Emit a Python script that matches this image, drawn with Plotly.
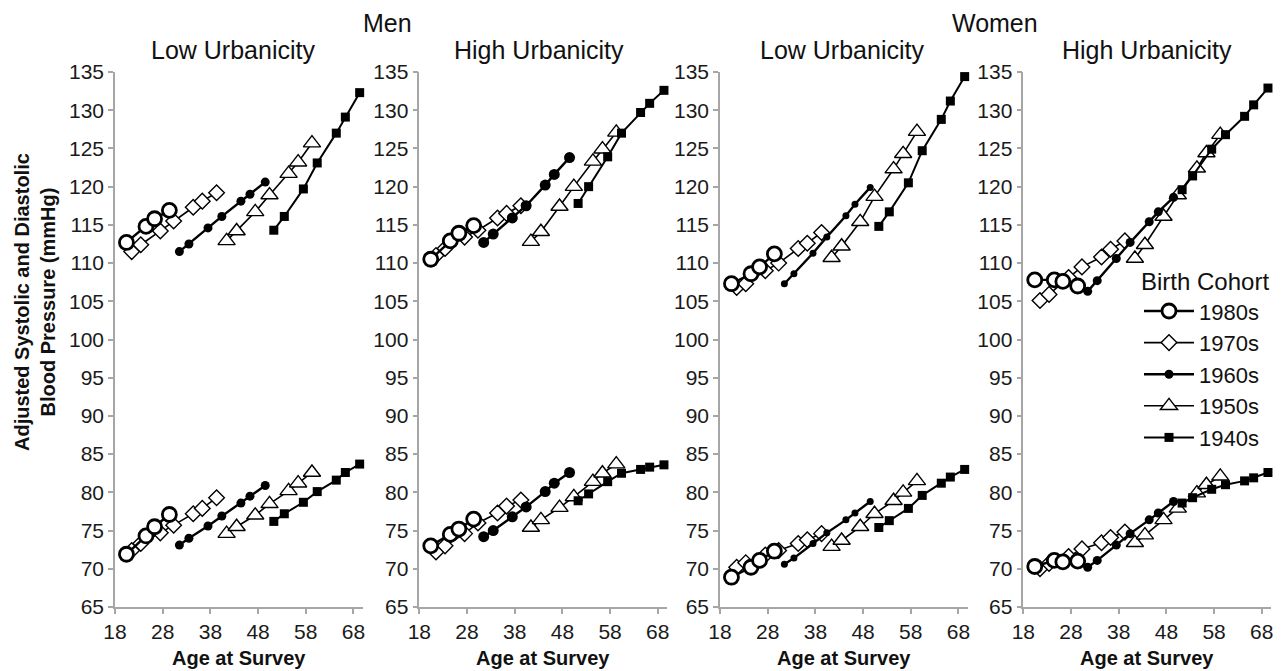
import plotly.graph_objects as go

# ---------------- data ----------------
cohorts = ["1980s", "1970s", "1960s", "1950s", "1940s"]

age_1980s = [20.4, 24.5, 26.3, 29.4]
age_1970s = [21.5, 23.4, 27.5, 30.3, 34.4, 36.3, 39.3]
age_1960s = [31.5, 33.5, 37.5, 40.4, 44.4, 46.3, 49.5]
age_1950s = [41.4, 43.5, 47.4, 50.4, 54.4, 56.4, 59.3]
age_1940s = [51.3, 53.5, 57.5, 60.4, 64.4, 66.3, 69.3]

# Men, low urbanicity
men_low_sbp_1980s = [112.7, 114.8, 115.8, 116.9]
men_low_sbp_1970s = [111.5, 112.4, 114.2, 115.5, 117.3, 118.1, 119.2]
men_low_sbp_1960s = [111.5, 112.5, 114.6, 116.1, 118.1, 119.0, 120.6]
men_low_sbp_1950s = [112.9, 114.2, 116.7, 118.9, 121.7, 123.2, 125.7]
men_low_sbp_1940s = [114.3, 116.1, 119.7, 123.1, 127.0, 129.1, 132.3]
men_low_dbp_1980s = [71.9, 74.3, 75.5, 77.1]
men_low_dbp_1970s = [72.4, 73.3, 74.7, 75.7, 77.2, 77.9, 79.3]
men_low_dbp_1960s = [73.1, 74.0, 75.6, 76.9, 78.6, 79.5, 80.9]
men_low_dbp_1950s = [74.6, 75.5, 77.0, 78.5, 80.2, 81.2, 82.6]
men_low_dbp_1940s = [76.2, 77.2, 78.7, 80.1, 81.6, 82.6, 83.7]

# Men, high urbanicity
men_high_sbp_1980s = [110.5, 112.9, 113.9, 114.9]
men_high_sbp_1970s = [111.0, 111.9, 113.4, 114.3, 115.9, 116.5, 117.5]
men_high_sbp_1960s = [112.7, 113.8, 115.9, 117.5, 120.2, 121.6, 123.8]
men_high_sbp_1950s = [112.8, 114.1, 117.4, 120.0, 123.3, 124.9, 127.1]
men_high_sbp_1940s = [117.8, 120.0, 123.9, 127.0, 129.7, 130.9, 132.6]
men_high_dbp_1980s = [73.0, 74.5, 75.2, 76.5]
men_high_dbp_1970s = [72.2, 73.0, 74.6, 76.0, 77.3, 78.2, 79.0]
men_high_dbp_1960s = [74.2, 75.0, 76.8, 78.1, 80.1, 81.2, 82.6]
men_high_dbp_1950s = [75.4, 76.4, 78.0, 79.4, 81.4, 82.5, 83.7]
men_high_dbp_1940s = [78.9, 79.8, 81.4, 82.5, 83.0, 83.3, 83.6]

# Women, low urbanicity
women_low_sbp_1980s = [107.3, 108.6, 109.5, 111.2]
women_low_sbp_1970s = [106.8, 107.3, 109.0, 110.0, 111.9, 112.6, 114.0]
women_low_sbp_1960s = [107.3, 108.6, 111.3, 113.4, 116.2, 117.7, 119.9]
women_low_sbp_1950s = [110.7, 112.2, 115.4, 118.7, 122.3, 124.3, 127.2]
women_low_sbp_1940s = [114.8, 116.7, 120.5, 124.7, 128.8, 131.2, 134.4]
women_low_dbp_1980s = [68.9, 70.2, 71.1, 72.3]
women_low_dbp_1970s = [70.2, 70.8, 71.8, 72.4, 73.3, 73.8, 74.6]
women_low_dbp_1960s = [70.6, 71.4, 73.3, 74.7, 76.4, 77.3, 78.8]
women_low_dbp_1950s = [72.9, 73.7, 75.5, 77.2, 78.9, 80.0, 81.5]
women_low_dbp_1940s = [75.4, 76.3, 77.9, 79.6, 81.2, 82.0, 83.0]

# Women, high urbanicity
women_high_sbp_1980s = [107.8, 107.8, 107.6, 107.0]
women_high_sbp_1970s = [105.1, 105.9, 108.1, 109.5, 110.8, 111.8, 112.9]
women_high_sbp_1960s = [106.3, 107.7, 110.6, 112.7, 115.4, 116.7, 118.6]
women_high_sbp_1950s = [110.6, 112.4, 116.1, 118.9, 122.4, 124.4, 126.8]
women_high_sbp_1940s = [119.6, 121.4, 124.9, 126.8, 129.2, 130.7, 132.9]
women_high_dbp_1980s = [70.3, 71.1, 70.9, 71.0]
women_high_dbp_1970s = [70.0, 70.7, 71.6, 72.6, 73.4, 74.1, 74.8]
women_high_dbp_1960s = [70.2, 71.1, 73.1, 74.6, 76.4, 77.3, 78.8]
women_high_dbp_1950s = [73.4, 74.4, 76.4, 77.9, 79.9, 81.0, 82.1]
women_high_dbp_1940s = [78.6, 79.3, 80.4, 81.0, 81.5, 81.9, 82.6]

panel_titles = ["Low Urbanicity", "High Urbanicity", "Low Urbanicity", "High Urbanicity"]
sex_titles = ["Men", "Women"]
x_ticks = [18, 28, 38, 48, 58, 68]
y_ticks = list(range(65, 140, 5))

# ---------------- assembly ----------------
ages = {"1980s": age_1980s, "1970s": age_1970s, "1960s": age_1960s,
        "1950s": age_1950s, "1940s": age_1940s}
panels = [
    {"1980s": (men_low_sbp_1980s, men_low_dbp_1980s), "1970s": (men_low_sbp_1970s, men_low_dbp_1970s),
     "1960s": (men_low_sbp_1960s, men_low_dbp_1960s), "1950s": (men_low_sbp_1950s, men_low_dbp_1950s),
     "1940s": (men_low_sbp_1940s, men_low_dbp_1940s)},
    {"1980s": (men_high_sbp_1980s, men_high_dbp_1980s), "1970s": (men_high_sbp_1970s, men_high_dbp_1970s),
     "1960s": (men_high_sbp_1960s, men_high_dbp_1960s), "1950s": (men_high_sbp_1950s, men_high_dbp_1950s),
     "1940s": (men_high_sbp_1940s, men_high_dbp_1940s)},
    {"1980s": (women_low_sbp_1980s, women_low_dbp_1980s), "1970s": (women_low_sbp_1970s, women_low_dbp_1970s),
     "1960s": (women_low_sbp_1960s, women_low_dbp_1960s), "1950s": (women_low_sbp_1950s, women_low_dbp_1950s),
     "1940s": (women_low_sbp_1940s, women_low_dbp_1940s)},
    {"1980s": (women_high_sbp_1980s, women_high_dbp_1980s), "1970s": (women_high_sbp_1970s, women_high_dbp_1970s),
     "1960s": (women_high_sbp_1960s, women_high_dbp_1960s), "1950s": (women_high_sbp_1950s, women_high_dbp_1950s),
     "1940s": (women_high_sbp_1940s, women_high_dbp_1940s)},
]

W, H = 1285, 671
def fx(px):
    return px / W
def fy(py):
    return 1 - py / H

x_left = [115, 419.3, 720, 1023.3]
x_width = 248
y_top, y_bot = 72, 607

styles = {
    "1980s": dict(symbol="circle", color="white", size=14, lw=2.8, linew=2.4),
    "1970s": dict(symbol="diamond", color="white", size=12, lw=1.4, linew=1.6),
    "1960s": dict(symbol="circle", color="black", size=9, lw=0, linew=2.4),
    "1950s": dict(symbol="triangle-up", color="white", size=15, lw=1.4, linew=1.6),
    "1940s": dict(symbol="square", color="black", size=9, lw=0, linew=2.0),
}
dot_size = [9, 11, 7, 9]
draw_order = ["1950s", "1940s", "1970s", "1960s", "1980s"]
rank = {c: i for i, c in enumerate(cohorts)}

FONT = "Liberation Sans, Arial"
fig = go.Figure()
for p, pdata in enumerate(panels):
    xa = "x" if p == 0 else f"x{p+1}"
    ya = "y" if p == 0 else f"y{p+1}"
    for c in draw_order:
        st = styles[c]
        size = dot_size[p] if c == "1960s" else st["size"]
        for k, vals in enumerate(pdata[c]):
            fig.add_trace(go.Scatter(
                x=ages[c], y=vals, xaxis=xa, yaxis=ya,
                mode="lines+markers", name=c,
                legendrank=rank[c],
                showlegend=(p == 3 and k == 0),
                line=dict(color="black", width=st["linew"]),
                marker=dict(symbol=st["symbol"], color=st["color"], size=size,
                            line=dict(color="black", width=st["lw"])),
                cliponaxis=False,
            ))

axis_common = dict(showline=True, linecolor="#a6a6a6", linewidth=1.5, ticks="outside",
                   tickcolor="#a6a6a6", ticklen=5, tickwidth=1.5, showgrid=False, zeroline=False,
                   automargin=False,
                   tickfont=dict(family=FONT, size=21, color="#1a1a1a"))
layout = {}
for p in range(4):
    xk = "xaxis" if p == 0 else f"xaxis{p+1}"
    yk = "yaxis" if p == 0 else f"yaxis{p+1}"
    ya = "y" if p == 0 else f"y{p+1}"
    xa = "x" if p == 0 else f"x{p+1}"
    layout[xk] = dict(axis_common, domain=[fx(x_left[p]), fx(x_left[p] + x_width)],
                      range=[18, 70], tickvals=x_ticks, anchor=ya)
    layout[yk] = dict(axis_common, domain=[fy(y_bot), fy(y_top)], range=[65, 135],
                      tickvals=y_ticks, anchor=xa)
fig.update_layout(**layout)

ann = []
title_cx = [233, 539, 842, 1147]
for p in range(4):
    ann.append(dict(text=panel_titles[p], x=fx(title_cx[p]), y=fy(50), xref="paper", yref="paper",
                    showarrow=False, xanchor="center", yanchor="middle",
                    font=dict(family=FONT, size=25, color="#111")))
    ann.append(dict(text="<b>Age at Survey</b>", x=fx(x_left[p] + 124), y=fy(658), xref="paper",
                    yref="paper", showarrow=False, xanchor="center", yanchor="middle",
                    font=dict(family=FONT, size=20, color="#111")))
ann.append(dict(text=sex_titles[0], x=fx(387), y=fy(23), xref="paper", yref="paper", showarrow=False,
                xanchor="center", yanchor="middle", font=dict(family=FONT, size=25, color="#111")))
ann.append(dict(text=sex_titles[1], x=fx(995), y=fy(23), xref="paper", yref="paper", showarrow=False,
                xanchor="center", yanchor="middle", font=dict(family=FONT, size=25, color="#111")))
ann.append(dict(text="<b>Adjusted Systolic and Diastolic<br>Blood Pressure (mmHg)</b>",
                x=fx(35), y=fy(302), xref="paper", yref="paper", showarrow=False, textangle=-90,
                xanchor="center", yanchor="middle",
                font=dict(family=FONT, size=20, color="#111")))

fig.update_layout(
    width=W, height=H, margin=dict(l=0, r=0, t=0, b=0, autoexpand=False),
    paper_bgcolor="white", plot_bgcolor="white",
    annotations=ann,
    legend=dict(title=dict(text="Birth Cohort", font=dict(size=24)),
                font=dict(family=FONT, size=22, color="#111"),
                x=fx(1272), y=fy(259), xanchor="right", yanchor="top",
                bgcolor="rgba(0,0,0,0)", itemwidth=50),
    font=dict(family=FONT),
)
fig.write_html("out.html")
